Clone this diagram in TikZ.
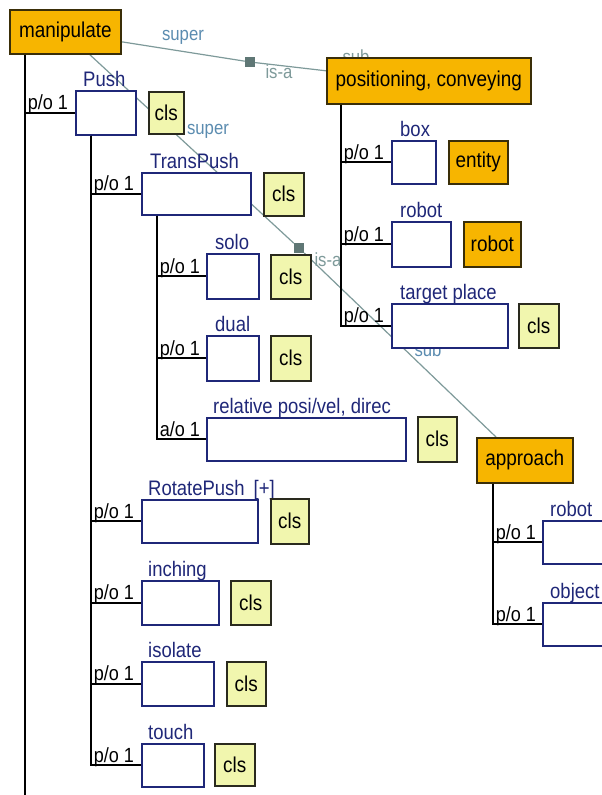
\documentclass[tikz,border=0pt]{standalone}
\usepackage{fontspec}
\setmainfont{Liberation Sans}[FakeStretch=0.88]
\usetikzlibrary{positioning}
\definecolor{ontoorange}{HTML}{F7B500}
\definecolor{ontoedge}{HTML}{3A2E08}
\definecolor{clsfill}{HTML}{F1F6AE}
\definecolor{clsedge}{HTML}{2A2A1E}
\definecolor{slotnavy}{HTML}{1F2778}
\definecolor{isagrey}{HTML}{7E9A9A}
\definecolor{isamark}{HTML}{5F7775}
\definecolor{superblue}{HTML}{5B8CB0}
\pgfdeclarelayer{back}
\pgfsetlayers{back,main}
\tikzset{
  concept/.style={draw=ontoedge,line width=1.6pt,fill=ontoorange,anchor=north west,inner sep=0pt,font=\fontsize{21.5}{23}\selectfont},
  slot/.style={draw=slotnavy,line width=1.7pt,fill=white,anchor=north west,inner sep=0pt},
  clsbox/.style={draw=clsedge,line width=1.6pt,fill=clsfill,anchor=north west,inner sep=0pt,font=\fontsize{21.5}{23}\selectfont},
  slotlbl/.style={anchor=base west,inner sep=0pt,text=slotnavy,font=\fontsize{21}{23}\selectfont},
  card/.style={anchor=base west,inner sep=0pt,font=\fontsize{20.5}{22}\selectfont},
  tree/.style={draw=black,line width=1.8pt},
  isaline/.style={draw=isagrey,line width=1.2pt},
  isalbl/.style={inner sep=0pt,text=isagrey,font=\fontsize{19}{21}\selectfont},
  isasq/.style={fill=isamark,minimum size=10pt,inner sep=0pt}
}
\begin{document}
\begin{tikzpicture}[x=1pt,y=-1pt]
\clip (0,0) rectangle (602,795);
% concepts
\node[concept,minimum width=111pt,minimum height=44pt] (manip) at (9,9) {manipulate};
\node[concept,minimum width=204pt,minimum height=46pt] (pos) at (326,57) {positioning, conveying};
\node[concept,minimum width=96pt,minimum height=45pt] (approach) at (476,437) {approach};
% slots under manipulate
\node[slot,minimum width=60pt,minimum height=44pt] (push) at (75,90) {};
\node[slot,minimum width=109pt,minimum height=42pt] (transpush) at (141,172) {};
\node[slot,minimum width=52pt,minimum height=45pt] (solo) at (206,253) {};
\node[slot,minimum width=52pt,minimum height=45pt] (dual) at (206,335) {};
\node[slot,minimum width=199pt,minimum height=43pt] (relpos) at (206,417) {};
\node[slot,minimum width=116pt,minimum height=43pt] (rotpush) at (141,499) {};
\node[slot,minimum width=77pt,minimum height=44pt] (inching) at (141,580) {};
\node[slot,minimum width=72pt,minimum height=44pt] (isolate) at (141,661) {};
\node[slot,minimum width=62pt,minimum height=43pt] (touch) at (141,743) {};
% slots under positioning / approach
\node[slot,minimum width=44pt,minimum height=43pt] (boxslot) at (391,140) {};
\node[slot,minimum width=59pt,minimum height=45pt] (robotslot) at (391,221) {};
\node[slot,minimum width=116pt,minimum height=44pt] (target) at (391,303) {};
\node[slot,minimum width=75pt,minimum height=43pt] (aprobot) at (542,520) {};
\node[slot,minimum width=75pt,minimum height=43pt] (apobject) at (542,602) {};
% slot names
\node[slotlbl] (pushlbl) at ([xshift=8pt,yshift=4pt]push.north west) {Push};
\node[slotlbl] (transpushlbl) at ([xshift=9pt,yshift=4pt]transpush.north west) {TransPush};
\node[slotlbl] (sololbl) at ([xshift=9pt,yshift=4pt]solo.north west) {solo};
\node[slotlbl] (duallbl) at ([xshift=9pt,yshift=4pt]dual.north west) {dual};
\node[slotlbl] (relposlbl) at ([xshift=7pt,yshift=4pt]relpos.north west) {relative posi/vel, direc};
\node[slotlbl] (rotpushlbl) at ([xshift=7pt,yshift=4pt]rotpush.north west) {RotatePush\hspace{9pt}[+]};
\node[slotlbl] (inchinglbl) at ([xshift=7pt,yshift=4pt]inching.north west) {inching};
\node[slotlbl] (isolatelbl) at ([xshift=7pt,yshift=4pt]isolate.north west) {isolate};
\node[slotlbl] (touchlbl) at ([xshift=7pt,yshift=4pt]touch.north west) {touch};
\node[slotlbl] (boxlbl) at ([xshift=9pt,yshift=4pt]boxslot.north west) {box};
\node[slotlbl] (robotlbl) at ([xshift=9pt,yshift=4pt]robotslot.north west) {robot};
\node[slotlbl] (targetlbl) at ([xshift=9pt,yshift=4pt]target.north west) {target place};
\node[slotlbl] (aprobotlbl) at ([xshift=8pt,yshift=4pt]aprobot.north west) {robot};
\node[slotlbl] (apobjectlbl) at ([xshift=8pt,yshift=4pt]apobject.north west) {object};
% class tags
\node[clsbox,minimum width=35pt,minimum height=42pt] (pushcls) at (148,91) {cls};
\node[clsbox,minimum width=40pt,minimum height=43pt] (transpushcls) at (263,172) {cls};
\node[clsbox,minimum width=40pt,minimum height=44pt] (solocls) at (270,254) {cls};
\node[clsbox,minimum width=40pt,minimum height=45pt] (dualcls) at (270,335) {cls};
\node[clsbox,minimum width=39pt,minimum height=45pt] (relposcls) at (417,416) {cls};
\node[clsbox,minimum width=38pt,minimum height=45pt] (rotpushcls) at (270,498) {cls};
\node[clsbox,minimum width=40pt,minimum height=44pt] (inchingcls) at (230,580) {cls};
\node[clsbox,minimum width=39pt,minimum height=44pt] (isolatecls) at (226,661) {cls};
\node[clsbox,minimum width=40pt,minimum height=42pt] (touchcls) at (214,743) {cls};
\node[clsbox,minimum width=40pt,minimum height=44pt] (targetcls) at (518,303) {cls};
\node[concept,minimum width=59pt,minimum height=43pt] (entity) at (448,140) {entity};
\node[concept,minimum width=57pt,minimum height=45pt] (robotc) at (463,221) {robot};
% part-of trees
\coordinate (mtop) at ([xshift=16pt]manip.south west);
\coordinate (mbot) at (25,800);
\coordinate (ptop) at ([xshift=16pt]push.south west);
\coordinate (ttop) at ([xshift=16pt]transpush.south west);
\coordinate (stop) at ([xshift=15pt]pos.south west);
\coordinate (atop) at ([xshift=17pt]approach.south west);
\draw[tree] (mtop) -- (mbot);
\draw[tree] (mtop) |- node[card,pos=0.5,xshift=2pt,yshift=3pt] (c1) {p/o 1} (push.west);
\foreach \s in {transpush,rotpush,inching,isolate,touch}
  \draw[tree] (ptop) |- node[card,pos=0.5,xshift=2pt,yshift=3pt] {p/o 1} (\s.west);
\foreach \s/\c in {solo/p,dual/p,relpos/a}
  \draw[tree] (ttop) |- node[card,pos=0.5,xshift=2pt,yshift=3pt] {\c/o 1} (\s.west);
\foreach \s in {boxslot,robotslot,target}
  \draw[tree] (stop) |- node[card,pos=0.5,xshift=2pt,yshift=3pt] {p/o 1} (\s.west);
\foreach \s in {aprobot,apobject}
  \draw[tree] (atop) |- node[card,pos=0.5,xshift=2pt,yshift=3pt] {p/o 1} (\s.west);
% is-a links, kept behind the boxes
\begin{pgfonlayer}{back}
\fill[white] (0,0) rectangle (602,795);
\coordinate (tpsuper) at (88,53);
\node[isasq] (isa1) at (250,62) {};
\node[isasq] (isa2) at (299,248) {};
\node[isalbl,text=superblue] (sup1) at (183,37) {super};
\node[isalbl] (isal1) at (279,72) {is-a};
\node[isalbl] (sub1) at (356,57) {sub};
\node[isalbl,text=superblue] (sup2) at (208,131) {super};
\node[isalbl] (isal2) at (328,260) {is-a};
\node[isalbl,text=superblue] (sub2) at (428,350) {sub};
\draw[isaline] ([yshift=-10pt]manip.east) -- (isa1) -- ([yshift=10pt]pos.west);
\draw[isaline] (tpsuper) -- (isa2) -- ([xshift=20pt]approach.north west);
\end{pgfonlayer}
\end{tikzpicture}
\end{document}
